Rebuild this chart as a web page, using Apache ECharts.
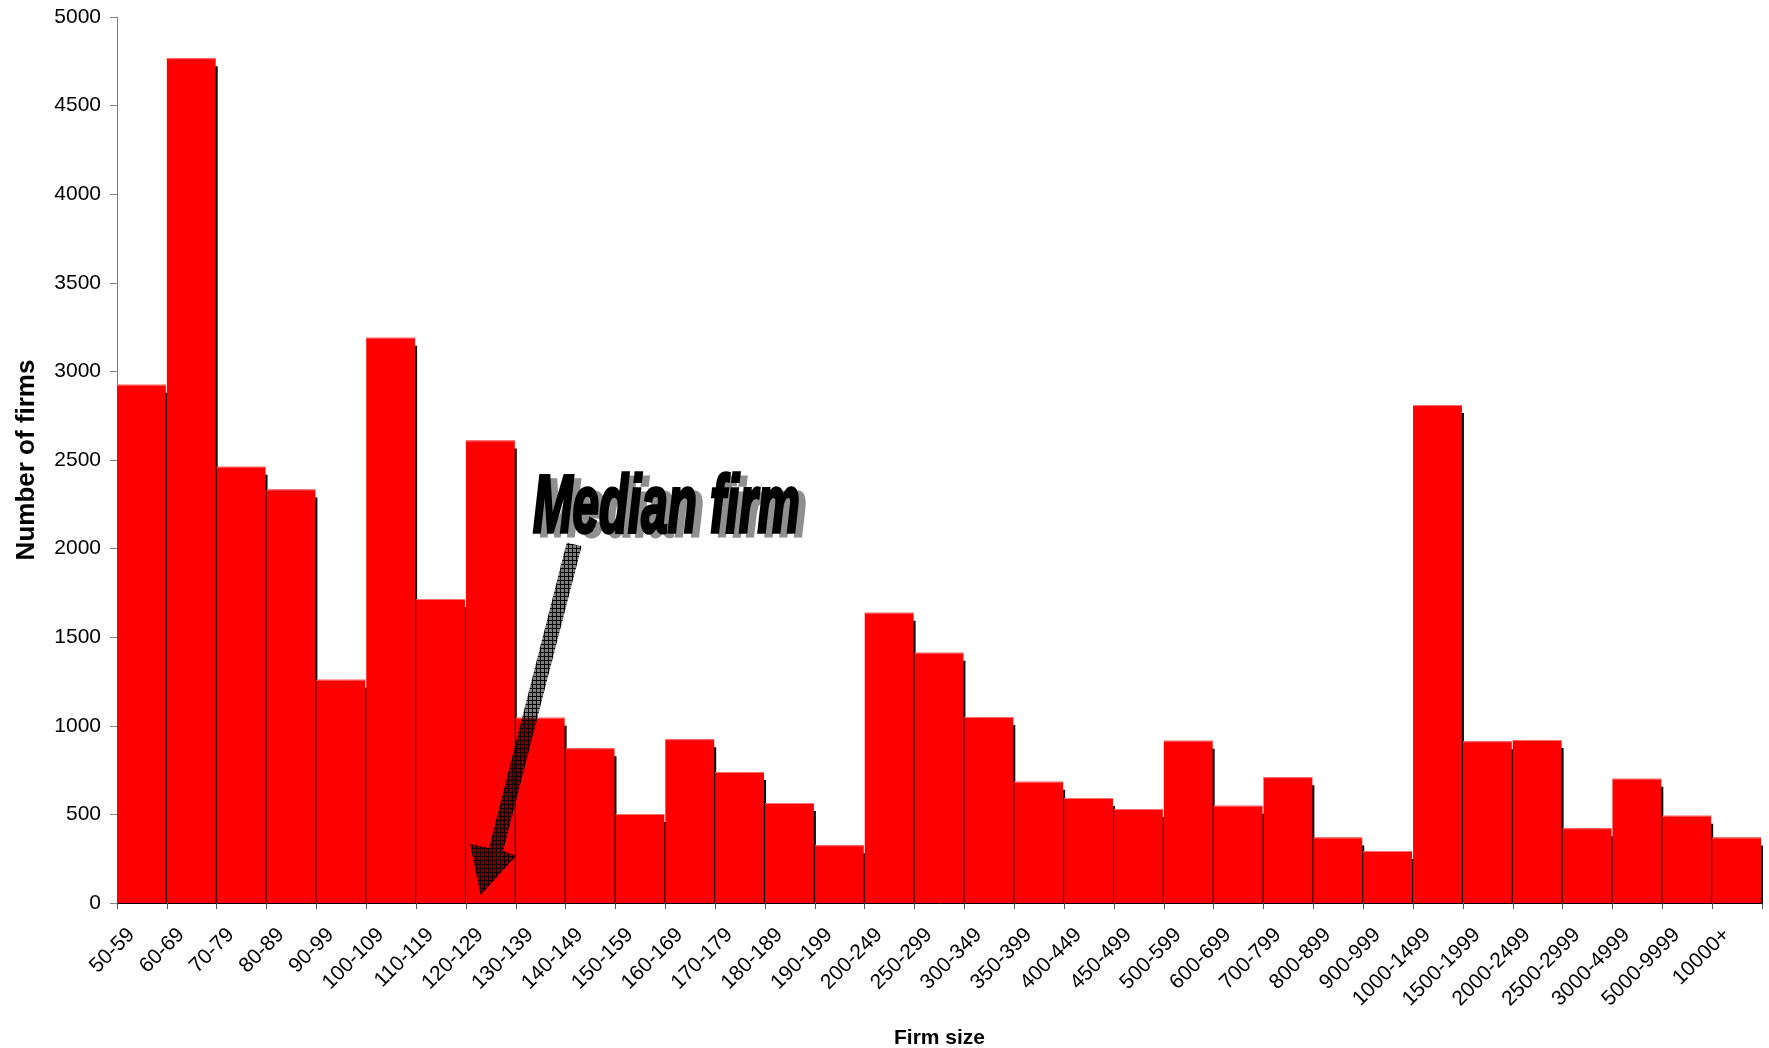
<!DOCTYPE html>
<html>
<head>
<meta charset="utf-8">
<title>Number of firms by firm size</title>
<script src="https://cdn.jsdelivr.net/npm/echarts@6/dist/echarts.min.js"></script>
<style>
  html, body { margin: 0; padding: 0; background: #ffffff; }
  #chart { width: 1769px; height: 1048px; }
</style>
</head>
<body>
<div id="chart"></div>
<script>
// Firm size classes (number of employees)
const sizeClasses = [
  '50-59', '60-69', '70-79', '80-89', '90-99', '100-109', '110-119', '120-129',
  '130-139', '140-149', '150-159', '160-169', '170-179', '180-189', '190-199',
  '200-249', '250-299', '300-349', '350-399', '400-449', '450-499', '500-599',
  '600-699', '700-799', '800-899', '900-999', '1000-1499', '1500-1999',
  '2000-2499', '2500-2999', '3000-4999', '5000-9999', '10000+'
];

// Number of firms in each size class
const firmCounts = [
  2925, 4767, 2462, 2334, 1260, 3190, 1716, 2610,
  1046, 874, 502, 924, 739, 564, 326,
  1638, 1412, 1050, 684, 593, 531, 915,
  549, 709, 369, 294, 2810, 913,
  920, 422, 701, 492, 369
];

// Value axis ticks
const yTicks = { min: 0, max: 5000, interval: 500 };

const annotationText = 'Median firm';

// Cross-hatch fill for the pointer arrow
function hatchPattern() {
  const c = document.createElement('canvas');
  c.width = 4; c.height = 4;
  const g = c.getContext('2d');
  g.fillStyle = 'rgba(0,0,0,0.5)';
  g.fillRect(0, 0, 4, 4);
  g.fillStyle = 'rgba(0,0,0,0.95)';
  g.fillRect(0, 0, 4, 1);
  g.fillRect(0, 0, 1, 4);
  return c;
}

const chart = echarts.init(document.getElementById('chart'), null, { renderer: 'canvas' });

// Each column: a black drop shadow offset right/down, then the red column on top.
function renderColumn(params, api) {
  const idx = api.value(0);
  const val = api.value(1);
  const top = api.coord([idx, val]);
  const base = api.coord([idx, 0]);
  const band = api.size([1, 0])[0];
  const left = top[0] - band / 2;
  const w = band - 1;
  const h = base[1] - top[1];
  return {
    type: 'group',
    children: [
      {
        type: 'rect',
        shape: { x: left + 2, y: top[1] + 8, width: w, height: Math.max(0, h - 8) },
        style: { fill: '#000000' }
      },
      {
        type: 'rect',
        shape: { x: left, y: top[1], width: w, height: h },
        style: { fill: '#ff0000' }
      },
      {
        type: 'rect',
        shape: { x: left, y: top[1], width: w, height: 1 },
        style: { fill: '#ff6a6a' }
      }
    ]
  };
}

const option = {
  backgroundColor: '#ffffff',
  animation: false,
  grid: {
    left: 117, right: 7, top: 17, bottom: 145,
    containLabel: false,
    outerBoundsMode: 'none'
  },
  xAxis: {
    type: 'category',
    data: sizeClasses,
    boundaryGap: true,
    name: 'Firm size',
    nameLocation: 'middle',
    nameGap: 125,
    nameTextStyle: { fontFamily: 'Liberation Sans, Arial, sans-serif', fontSize: 21, fontWeight: 'bold', color: '#000' },
    axisLine: { show: true, lineStyle: { color: '#000', width: 1 } },
    axisTick: { show: true, length: 6, lineStyle: { color: '#555' } },
    axisLabel: {
      interval: 0,
      rotate: 45,
      margin: 18,
      padding: [0, 15, 0, 0],
      fontFamily: 'Liberation Sans, Arial, sans-serif',
      fontSize: 21,
      color: '#000'
    },
    splitLine: { show: false }
  },
  yAxis: {
    type: 'value',
    min: yTicks.min,
    max: yTicks.max,
    interval: yTicks.interval,
    name: 'Number of firms',
    nameLocation: 'middle',
    nameGap: 77,
    nameTextStyle: { fontFamily: 'Liberation Sans, Arial, sans-serif', fontSize: 26, fontWeight: 'bold', color: '#000' },
    axisLine: { show: true, lineStyle: { color: '#808080', width: 1 } },
    axisTick: { show: true, length: 7, lineStyle: { color: '#808080' } },
    axisLabel: {
      margin: 16,
      formatter: (v) => String(v),
      fontFamily: 'Liberation Sans, Arial, sans-serif',
      fontSize: 21,
      color: '#000'
    },
    splitLine: { show: false }
  },
  series: [{
    type: 'custom',
    renderItem: renderColumn,
    encode: { x: 0, y: 1 },
    data: firmCounts.map((v, i) => [i, v]),
    clip: false
  }],
  graphic: [
    // Pointer arrow toward the median size class
    {
      type: 'polygon',
      z: 100,
      shape: {
        points: [
          [566.7, 542.7], [581.7, 546], [503, 851], [516, 856],
          [480.7, 895], [470, 844], [489, 848]
        ]
      },
      style: { fill: { image: hatchPattern(), repeat: 'repeat' } }
    },
    // Heading shadow
    {
      type: 'text',
      z: 100,
      x: 540, y: 514,
      scaleX: 0.587, scaleY: 1,
      style: {
        text: annotationText,
        font: 'italic bold 81px "Liberation Sans", Arial, sans-serif',
        fill: '#8f8f8f',
        stroke: '#8f8f8f',
        lineWidth: 3,
        textAlign: 'left',
        textVerticalAlign: 'middle'
      }
    },
    // Heading
    {
      type: 'text',
      z: 101,
      x: 533, y: 510,
      scaleX: 0.587, scaleY: 1,
      style: {
        text: annotationText,
        font: 'italic bold 81px "Liberation Sans", Arial, sans-serif',
        fill: '#000000',
        stroke: '#000000',
        lineWidth: 3.5,
        textAlign: 'left',
        textVerticalAlign: 'middle'
      }
    }
  ]
};

chart.setOption(option);
</script>
</body>
</html>
